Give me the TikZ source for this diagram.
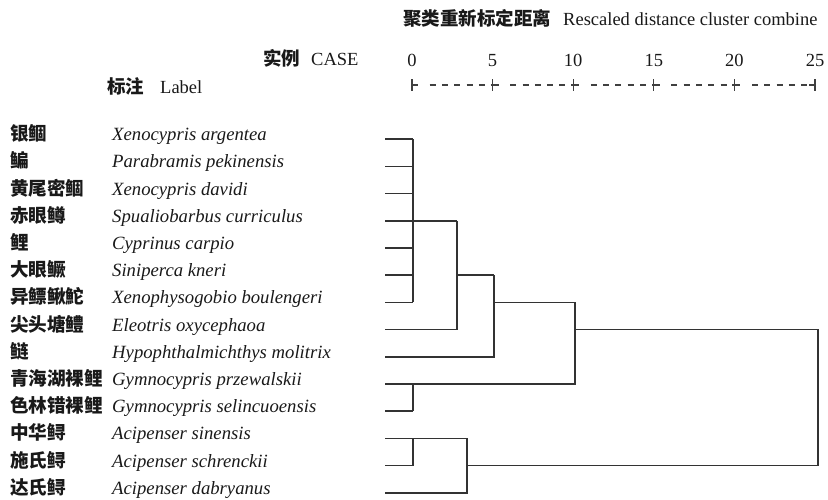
\documentclass[tikz,border=0pt]{standalone}
\usepackage{fontspec}
\setmainfont{Liberation Serif}
\newfontfamily\cjk{Noto Sans CJK SC}

\begin{document}
\begin{tikzpicture}
  [x=1pt, y=-1pt, font=\fontsize{18.5}{20}\selectfont,
   every node/.style={inner sep=0pt, anchor=base west, text=black!90},
   cname/.style={font=\fontsize{18.6}{20}\selectfont\cjk\bfseries},
   sciname/.style={font=\fontsize{18.7}{20}\selectfont\itshape},
   link/.style={line width=1.6pt, black!80},
   ruler/.style={line width=1.3pt, black!75}]
  \useasboundingbox (0,0) rectangle (828,500);
  \node (title) at (403,26) {{\cjk\bfseries 聚类重新标定距离}\hspace{12pt}Rescaled distance cluster combine};
  \node (case) at (263,66) {{\cjk\bfseries 实例}\hspace{11pt}CASE};
  \node (label) at (107,94) {{\cjk\bfseries 标注}\hspace{16pt}Label};
  \foreach \v [count=\k from 0] in {0,5,10,15,20,25}
    {\coordinate (k\v) at ({412+80.6*\k},85);
     \node[anchor=base] (t\v) at ({412+80.6*\k},67) {\v};
     \draw[ruler] ([yshift=-6pt]k\v) -- ([yshift=6pt]k\v);}
  \foreach \k in {0,...,4}
    \foreach \j in {0,...,4}
      \draw[ruler] ({412+80.6*\k+17.6+12.3*\j},85) -- ++(6,0);
  \draw[ruler] (k0) -- ++(6,0);
  \foreach \v in {5,10,15,20}
    \draw[ruler] ([xshift=-2pt]k\v) -- ++(8,0);
  \draw[ruler] (k25) -- ++(-6,0);
  \foreach \i/\cn/\la in {1/银鲴/Xenocypris argentea, 2/鳊/Parabramis pekinensis,
      3/黄尾密鲴/Xenocypris davidi, 4/赤眼鳟/Spualiobarbus curriculus,
      5/鲤/Cyprinus carpio, 6/大眼鳜/Siniperca kneri,
      7/异鳔鳅鮀/Xenophysogobio boulengeri, 8/尖头塘鳢/Eleotris oxycephaoa,
      9/鲢/Hypophthalmichthys molitrix, 10/青海湖裸鲤/Gymnocypris przewalskii,
      11/色林错裸鲤/Gymnocypris selincuoensis, 12/中华鲟/Acipenser sinensis,
      13/施氏鲟/Acipenser schrenckii, 14/达氏鲟/Acipenser dabryanus}
    {\node[cname] (cn\i) at (10,{113.5+27.2*\i}) {\cn};
     \node[sciname] (sp\i) at (112,{113.5+27.2*\i}) {\la};
     \coordinate (l\i) at (385,{112+27.2*\i});}
  \coordinate (h0) at (413,0);
  \coordinate (h27) at (457,0);
  \coordinate (h33) at (467,0);
  \coordinate (h50) at (494,0);
  \coordinate (h100) at (575,0);
  \coordinate (h250) at (818,0);
  \foreach \i in {1,...,7,11,13}
    \draw[link] (l\i) -- (l\i -| h0);
  \draw[link] (l1 -| h0) -- (l7 -| h0);
  \draw[link] (l4 -| h0) -- (l4 -| h27);
  \draw[link] (l8) -| (l4 -| h27);
  \draw[link] (l6 -| h27) -- (l6 -| h50);
  \draw[link] (l9) -| (l6 -| h50);
  \draw[link] (l7 -| h50) -- (l7 -| h100);
  \draw[link] (l10) -| (l7 -| h100);
  \draw[link] (l10 -| h0) -- (l11 -| h0);
  \draw[link] (l12 -| h0) -- (l13 -| h0);
  \draw[link] (l12) -| (l14 -| h33) -- (l14);
  \draw[link] (l8 -| h100) -| (l13 -| h250) -- (l13 -| h33);
\end{tikzpicture}
\end{document}
